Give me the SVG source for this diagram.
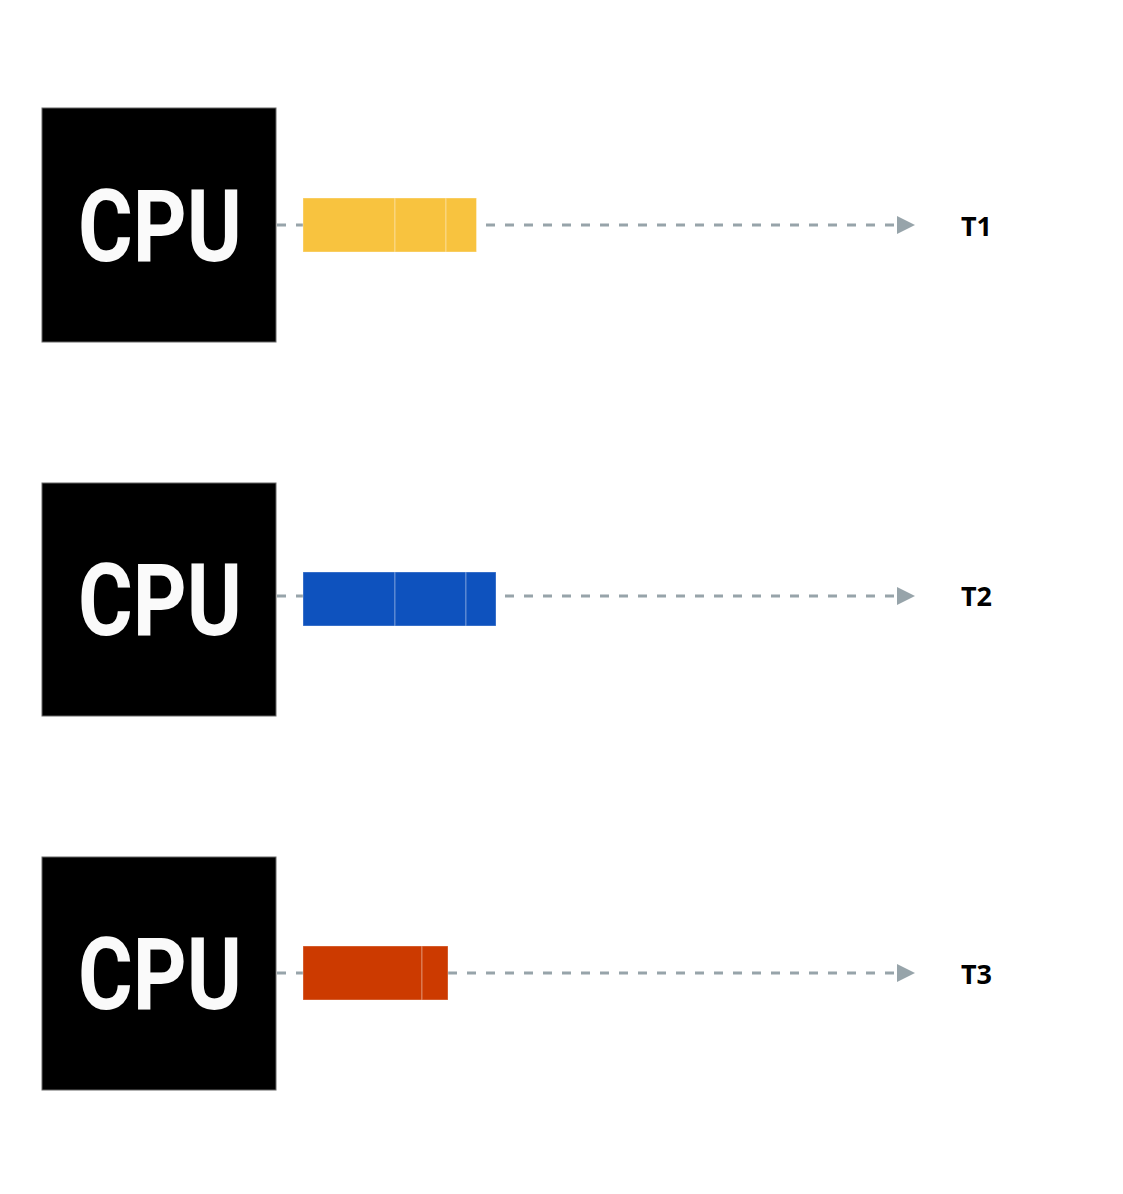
<svg xmlns="http://www.w3.org/2000/svg" width="1123" height="1194" viewBox="0 0 1123 1194">
<style>
.cpu{fill:#000;stroke:#666;stroke-width:1}
.cpuT{fill:#fafafa;font-family:Roboto,"Liberation Sans",sans-serif;font-weight:bold;font-size:101px}
.conn{stroke:#97a4aa;stroke-width:3;stroke-dasharray:9 10;fill:none}
.seg{stroke:rgba(255,255,255,0.35);stroke-width:1}
.lbl{fill:#000;font-family:"Noto Sans","Liberation Sans",sans-serif;font-weight:bold;font-size:27px}
</style>
<defs>
<marker id="arr" viewBox="0 0 10 10" refX="0" refY="5" markerWidth="6" markerHeight="6" markerUnits="strokeWidth" orient="auto">
<path d="M0,0 L10,5 L0,10 Z" fill="#97a4aa"/>
</marker>
</defs>
<rect width="1123" height="1194" fill="#fff"/>
<g id="connectors">
<path class="conn" d="M277,225 H897" marker-end="url(#arr)"/>
<path class="conn" d="M277,596 H897" marker-end="url(#arr)"/>
<path class="conn" d="M277,973 H897" marker-end="url(#arr)"/>
</g>
<g id="cpu1">
<rect class="cpu" x="42" y="108" width="234" height="234"/>
<text class="cpuT" x="160" y="261" text-anchor="middle" textLength="164" lengthAdjust="spacingAndGlyphs">CPU</text>
</g>
<g id="cpu2">
<rect class="cpu" x="42" y="483" width="234" height="233"/>
<text class="cpuT" x="160" y="635" text-anchor="middle" textLength="164" lengthAdjust="spacingAndGlyphs">CPU</text>
</g>
<g id="cpu3">
<rect class="cpu" x="42" y="857" width="234" height="233"/>
<text class="cpuT" x="160" y="1009" text-anchor="middle" textLength="164" lengthAdjust="spacingAndGlyphs">CPU</text>
</g>
<g id="bar1" fill="#f8c33f">
<rect class="seg" x="303" y="198" width="92" height="54"/>
<rect class="seg" x="395" y="198" width="51" height="54"/>
<rect class="seg" x="446" y="198" width="30.5" height="54"/>
</g>
<g id="bar2" fill="#0e52be">
<rect class="seg" x="303" y="572" width="92" height="54"/>
<rect class="seg" x="395" y="572" width="71" height="54"/>
<rect class="seg" x="466" y="572" width="30" height="54"/>
</g>
<g id="bar3" fill="#cc3a00">
<rect class="seg" x="303" y="946" width="119" height="54"/>
<rect class="seg" x="422" y="946" width="26" height="54"/>
</g>
<g id="label1"><text class="lbl" x="961" y="236">T1</text></g>
<g id="label2"><text class="lbl" x="961" y="606">T2</text></g>
<g id="label3"><text class="lbl" x="961" y="984">T3</text></g>
</svg>
